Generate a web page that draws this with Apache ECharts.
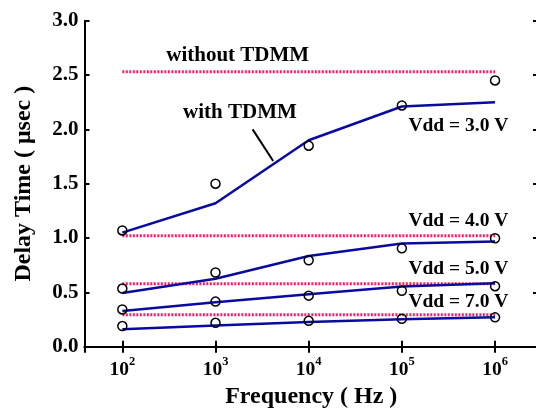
<!DOCTYPE html>
<html>
<head>
<meta charset="utf-8">
<script src="https://cdn.jsdelivr.net/npm/echarts@6/dist/echarts.min.js"></script>
<style>
html,body{margin:0;padding:0;background:#fff;}
#chart{width:536px;height:409px;}
</style>
</head>
<body>
<div id="chart"></div>
<script>
// ---- data ----
var freqs = [1e2, 1e3, 1e4, 1e5, 1e6];
// measured (open circles), delay time in usec
var meas30 = [1.07, 1.50, 1.85, 2.22, 2.45];
var meas40 = [0.535, 0.683, 0.795, 0.905, 0.998];
var meas50 = [0.343, 0.415, 0.47, 0.515, 0.557];
var meas70 = [0.19, 0.22, 0.238, 0.257, 0.27];
// with TDMM (solid blue lines)
var with30 = [1.05, 1.32, 1.90, 2.21, 2.25];
var with40 = [0.495, 0.625, 0.835, 0.95, 0.968];
var with50 = [0.328, 0.41, 0.482, 0.553, 0.583];
var with70 = [0.16, 0.196, 0.227, 0.252, 0.271];
// without TDMM (dotted lines), one level per Vdd: 3.0, 4.0, 5.0, 7.0 V
var withoutLevels = [2.53, 1.02, 0.579, 0.293];
var withoutRange = [1e2, 1e6];
var vddNames = ['Vdd = 3.0 V', 'Vdd = 4.0 V', 'Vdd = 5.0 V', 'Vdd = 7.0 V'];
// annotation anchors (data coords)
var vddLabelX = 1.39e6;
var vddLabelY = [2.028, 1.154, 0.717, 0.408];
var withoutLabel = {x: 1730, y: 2.68, text: 'without TDMM'};
var withLabel = {x: 1830, y: 2.158, text: 'with TDMM'};
var pointerX = [2502, 4159];
var pointerY = [2.0, 1.709];

var FONT = "'Liberation Serif','Times New Roman',serif";
function zip(xs, ys){ return xs.map(function(x,i){ return [x, ys[i]]; }); }

var series = [];
withoutLevels.forEach(function(v){
  series.push({type:'line', xAxisIndex:0, yAxisIndex:0, symbol:'none', silent:true,
    data: withoutRange.map(function(x){ return [x, v]; }),
    lineStyle:{color:'#ff1a6e', width:3, type:[2,1.5]}, z:2});
});
[with30, with40, with50, with70].forEach(function(arr){
  series.push({type:'line', symbol:'none', silent:true, data: zip(freqs, arr),
    lineStyle:{color:'#0a0aa0', width:2.5}, z:3});
});
[meas30, meas40, meas50, meas70].forEach(function(arr){
  series.push({type:'scatter', symbol:'circle', symbolSize:9, silent:true, data: zip(freqs, arr),
    itemStyle:{color:'rgba(0,0,0,0)', borderColor:'#000', borderWidth:1.5, opacity:1}, z:4});
});
// pointer line
series.push({type:'line', symbol:'none', silent:true, data: zip(pointerX, pointerY),
  lineStyle:{color:'#000', width:2}, z:5});
// text annotations
var annLabel = {show:true, position:'inside', formatter:'{b}', color:'#000',
    textBorderWidth:0, textShadowBlur:0, fontFamily:FONT, fontWeight:'bold'};
series.push({type:'scatter', symbolSize:0, silent:true, z:6, itemStyle:{opacity:1},
  data:[{name:withoutLabel.text, value:[withoutLabel.x, withoutLabel.y]},
        {name:withLabel.text, value:[withLabel.x, withLabel.y]}],
  label:Object.assign({}, annLabel, {fontSize:21})});
series.push({type:'scatter', symbolSize:0, silent:true, z:6, itemStyle:{opacity:1},
  data: vddNames.map(function(n,i){ return {name:n, value:[vddLabelX, vddLabelY[i]]}; }),
  label:Object.assign({}, annLabel, {fontSize:19.5, align:'right'})});

var xMin = Math.pow(10, 1.594), xMax = Math.pow(10, 6.461);
var chart = echarts.init(document.getElementById('chart'), null, {renderer:'canvas'});
chart.setOption({
  animation:false,
  backgroundColor:'#fff',
  grid:{left:84.5, right:-2, top:20.7, bottom:62.3, containLabel:false, outerBoundsMode:'none'},
  xAxis:[{
    type:'log', logBase:10, min:xMin, max:xMax, position:'bottom',
    name:'Frequency ( Hz )', nameLocation:'middle', nameGap:33,
    nameTextStyle:{fontFamily:FONT, fontWeight:'bold', fontSize:24, color:'#000'},
    axisLine:{show:true, lineStyle:{color:'#000', width:2}},
    axisTick:{show:true, inside:true, length:6, lineStyle:{color:'#000', width:2}},
    splitLine:{show:false}, minorTick:{show:false},
    axisLabel:{show:true, margin:9, color:'#000',
      formatter:function(v){
        var e = Math.log10(v); var r = Math.round(e);
        if (Math.abs(e - r) > 0.01) return '';
        return '{b|10}{s|' + r + '}';
      },
      rich:{
        b:{fontFamily:FONT, fontWeight:'bold', fontSize:19.5, color:'#000', lineHeight:24, verticalAlign:'bottom'},
        s:{fontFamily:FONT, fontWeight:'bold', fontSize:12.5, color:'#000', lineHeight:24, verticalAlign:'top'}
      }}
  },{
    type:'log', logBase:10, min:xMin, max:xMax, position:'top',
    axisLine:{show:true, lineStyle:{color:'#000', width:2}},
    axisTick:{show:true, inside:true, length:6, lineStyle:{color:'#000', width:2}},
    axisLabel:{show:false}, splitLine:{show:false}
  }],
  yAxis:[{
    type:'value', min:0, max:3, interval:0.5, position:'left',
    name:'Delay Time ( μsec )', nameLocation:'middle', nameGap:49, nameRotate:90,
    nameTextStyle:{fontFamily:FONT, fontWeight:'bold', fontSize:24, color:'#000'},
    axisLine:{show:true, lineStyle:{color:'#000', width:2}},
    axisTick:{show:true, inside:true, length:5, lineStyle:{color:'#000', width:2}},
    splitLine:{show:false},
    axisLabel:{show:true, margin:6, color:'#000', fontFamily:FONT, fontWeight:'bold', fontSize:21,
      formatter:function(v){ return v.toFixed(1); }}
  },{
    type:'value', min:0, max:3, interval:0.5, position:'right',
    axisLine:{show:true, lineStyle:{color:'#000', width:2}},
    axisTick:{show:true, inside:true, length:5, lineStyle:{color:'#000', width:2}},
    axisLabel:{show:false}, splitLine:{show:false}
  }],
  series: series
});
</script>
</body>
</html>
